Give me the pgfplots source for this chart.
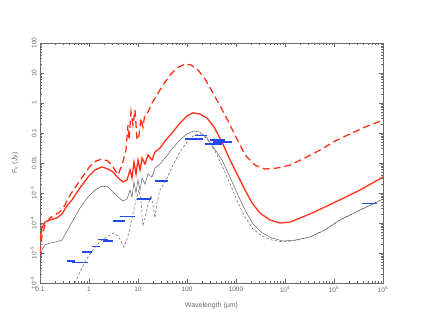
\documentclass[border=0pt]{standalone}
\usepackage{fontspec}
\setmainfont{Liberation Sans}
\usepackage{pgfplots}
\pgfplotsset{compat=1.18}
\definecolor{axgray}{RGB}{105,105,105}
\definecolor{sedred}{RGB}{255,50,25}
\definecolor{sedgray}{RGB}{95,95,95}
\definecolor{photblue}{RGB}{35,75,235}
\begin{document}
\begin{tikzpicture}
\path[use as bounding box] (-40pt,-44pt) rectangle (383pt,283pt);
\begin{axis}[
  scale only axis, width=343pt, height=240pt,
  xmode=log, ymode=log,
  xmin=0.1, xmax=1e6, ymin=1e-6, ymax=100,
  xtick={0.1,1,10,100,1000,1e4,1e5,1e6},
  xticklabels={0.1,1,10,100,1000,10\textsuperscript{4},10\textsuperscript{5},10\textsuperscript{6}},
  minor xtick={0.2,0.3,0.4,0.5,0.6,0.7,0.8,0.9,2,3,4,5,6,7,8,9,
    20,30,40,50,60,70,80,90,200,300,400,500,600,700,800,900,
    2e3,3e3,4e3,5e3,6e3,7e3,8e3,9e3,2e4,3e4,4e4,5e4,6e4,7e4,8e4,9e4,
    2e5,3e5,4e5,5e5,6e5,7e5,8e5,9e5},
  ytick={1e-6,1e-5,1e-4,1e-3,0.01,0.1,1,10,100},
  yticklabels={10\textsuperscript{−6},10\textsuperscript{−5},10\textsuperscript{−4},10\textsuperscript{−3},0.01,0.1,1,10,100},
  minor ytick={2e-6,3e-6,4e-6,5e-6,6e-6,7e-6,8e-6,9e-6,
    2e-5,3e-5,4e-5,5e-5,6e-5,7e-5,8e-5,9e-5,
    2e-4,3e-4,4e-4,5e-4,6e-4,7e-4,8e-4,9e-4,
    2e-3,3e-3,4e-3,5e-3,6e-3,7e-3,8e-3,9e-3,
    0.02,0.03,0.04,0.05,0.06,0.07,0.08,0.09,
    0.2,0.3,0.4,0.5,0.6,0.7,0.8,0.9,2,3,4,5,6,7,8,9,
    20,30,40,50,60,70,80,90},
  yticklabel style={rotate=90, anchor=south},
  axis line style={draw=axgray, line width=0.5pt},
  tick style={draw=axgray, line width=0.4pt},
  major tick length=4pt, minor tick length=2pt,
  tick label style={font=\fontsize{6.5}{7}\selectfont, text=axgray},
  label style={font=\fontsize{7}{8}\selectfont, text=axgray},
  xlabel={Wavelength (μm)},
  ylabel={F\textsubscript{ν} (Jy)},
  xlabel style={at={(axis description cs:0.5,-0.096)}, anchor=center},
  ylabel style={at={(axis description cs:-0.073,0.5)}, anchor=center},
]

% gray solid model
\addplot[sedgray, line width=0.5pt] coordinates {
(0.1,5.0e-6) (0.11,1.26e-5) (0.126,1.86e-5) (0.16,2.14e-5) (0.212,2.34e-5) (0.281,2.7e-5)
(0.34,4.7e-5) (0.45,1.07e-4) (0.655,3.16e-4) (0.955,7.4e-4) (1.33,1.26e-3) (1.84,1.7e-3)
(2.44,1.58e-3) (3.09,1.07e-3) (3.91,7.4e-4) (4.94,5.4e-4) (5.97,6.3e-4) (6.87,1.26e-3)
(7.55,7.4e-4) (8.28,2.34e-3) (9.1,1e-3) (10,2.7e-3) (11.0,1.26e-3) (12.1,3.16e-3)
(13.9,2.0e-3) (16.0,4.3e-3) (19.3,3.4e-3) (22.2,6.8e-3) (28.1,9.3e-3) (37.3,0.0158)
(49.4,0.0295) (71.9,0.059) (100,0.093) (139,0.117) (184,0.107) (256,0.068) (356,0.0316)
(518,0.0126) (755,3.4e-3) (1100,8.5e-4) (1530,2.7e-4) (2220,9.3e-5) (3400,4.7e-5)
(5430,3.16e-5) (9100,2.5e-5) (16000,2.7e-5) (32400,3.4e-5) (65500,5.9e-5) (132000,1.26e-4)
(340000,2.7e-4) (1e6,6.3e-4)
};

% gray dashed model
\addplot[sedgray, line width=0.5pt, dash pattern=on 2.5pt off 2pt] coordinates {
(0.518,1e-6) (0.655,2.34e-6) (0.83,5.0e-6) (1.05,9.3e-6) (1.39,1.7e-5) (1.84,2.7e-5)
(2.44,3.7e-5) (3.24,4.7e-5) (3.91,3.7e-5) (4.5,2.5e-5) (5.18,1.58e-5) (6.25,3.7e-5)
(7.55,1.48e-4) (9.1,5.9e-4) (10.5,1.26e-3) (11.5,5.9e-4) (12.6,7.9e-5) (13.9,1.48e-4)
(16.0,4.0e-4) (18.4,8.5e-4) (20.2,4.0e-4) (22.2,1.48e-4) (24.4,4.7e-4) (28.1,1.26e-3)
(39.1,3.16e-3) (51.8,8.5e-3) (71.9,0.0234) (100,0.05) (132,0.079) (176,0.093) (233,0.074)
(309,0.043) (409,0.0186) (569,5.9e-3) (791,1.7e-3) (1100,4.7e-4) (1530,1.58e-4)
(2220,6.3e-5) (3400,3.7e-5) (5430,2.7e-5) (9100,2.34e-5) (16000,2.6e-5) (32400,3.4e-5)
(65500,5.9e-5) (132000,1.26e-4) (340000,2.7e-4) (1e6,6.3e-4)
};

% red solid model
\addplot[sedred, line width=1.3pt] coordinates {
(0.1,2.7e-5) (0.11,6.8e-5) (0.126,1.07e-4) (0.16,1.26e-4) (0.222,1.48e-4) (0.281,2.0e-4)
(0.34,3.4e-4) (0.45,5.9e-4) (0.655,1.48e-3) (0.955,3.4e-3) (1.33,5.9e-3) (1.84,7.4e-3)
(2.44,6.3e-3) (3.09,5.0e-3) (3.91,3.2e-3) (4.94,2.34e-3) (5.97,2.7e-3) (6.87,5.9e-3)
(7.55,3.2e-3) (8.28,0.0107) (9.1,4.3e-3) (10,0.0126) (11.0,5.9e-3) (12.1,0.0148)
(13.9,9.3e-3) (16.0,0.0186) (19.3,0.0126) (22.2,0.0234) (28.1,0.0316) (37.3,0.059)
(49.4,0.1) (71.9,0.214) (100,0.37) (132,0.47) (184,0.43) (256,0.316) (356,0.158)
(518,0.05) (755,0.0126) (1100,3.7e-3) (1530,1.26e-3) (2120,4.7e-4) (3090,2.14e-4)
(4940,1.26e-4) (7900,1.0e-4) (12600,1.07e-4) (32400,2.0e-4) (132000,5.9e-4)
(340000,1.26e-3) (1e6,3.4e-3)
};

% red dashed model
\addplot[sedred, line width=1.3pt, dash pattern=on 7pt off 4pt] coordinates {
(0.1,1e-5) (0.11,3.7e-5) (0.126,8.5e-5) (0.16,1.48e-4) (0.202,1.86e-4) (0.256,2.34e-4)
(0.324,4.0e-4) (0.41,8.5e-4) (0.569,1.86e-3) (0.755,3.7e-3) (1.05,7.9e-3) (1.39,0.0117)
(1.84,0.0135) (2.44,0.0117) (3.09,7.4e-3) (3.91,4.0e-3) (4.71,8.5e-3) (5.69,0.027)
(6.25,0.186) (6.55,0.059) (7.2,0.5) (7.9,0.186) (8.7,0.59) (9.55,0.059) (10.5,0.085)
(11.5,0.316) (12.6,0.158) (13.9,0.43) (16.0,0.5) (19.3,1.0) (24.4,1.86) (32.4,3.98)
(45,8.5) (62.5,14.7) (91,20) (121,18.5) (168,12.6) (233,6.3) (340,2.15) (597,0.4)
(955,0.085) (1530,0.0186) (2440,8.5e-3) (3910,6.3e-3) (6870,6.8e-3) (12600,8.5e-3)
(25600,0.0148) (51800,0.027) (105000,0.054) (212000,0.093) (430000,0.158) (1e6,0.27)
};

% photometry (horizontal bars: filter width)
\addplot[photblue, line width=1.2pt, unbounded coords=jump] coordinates {
(0.355,5.4e-6) (0.518,5.4e-6) (0.5,nan)
(0.45,4.7e-6) (0.95,4.7e-6) (0.9,nan)
(0.72,1.08e-5) (1.15,1.08e-5) (1.1,nan)
(1.15,1.6e-5) (1.67,1.6e-5) (1.6,nan)
(1.53,2.9e-5) (2.44,2.9e-5) (2.4,nan)
(1.93,2.5e-5) (3.1,2.5e-5) (3.0,nan)
(3.1,1.17e-4) (5.4,1.17e-4) (5.0,nan)
(4.3,1.6e-4) (8.7,1.6e-4) (8.0,nan)
(9.6,6.3e-4) (18.4,6.3e-4) (18,nan)
(22.3,2.5e-3) (41,2.5e-3) (40,nan)
(91,0.063) (212,0.063) (200,nan)
(145,0.085) (256,0.085) (250,nan)
(295,0.058) (595,0.058) (590,nan)
(340,0.05) (820,0.05) (800,nan)
(235,0.043) (520,0.043) (500,nan)
(3.8e5,4.6e-4) (7.6e5,4.6e-4)
};
\end{axis}
\end{tikzpicture}
\end{document}
